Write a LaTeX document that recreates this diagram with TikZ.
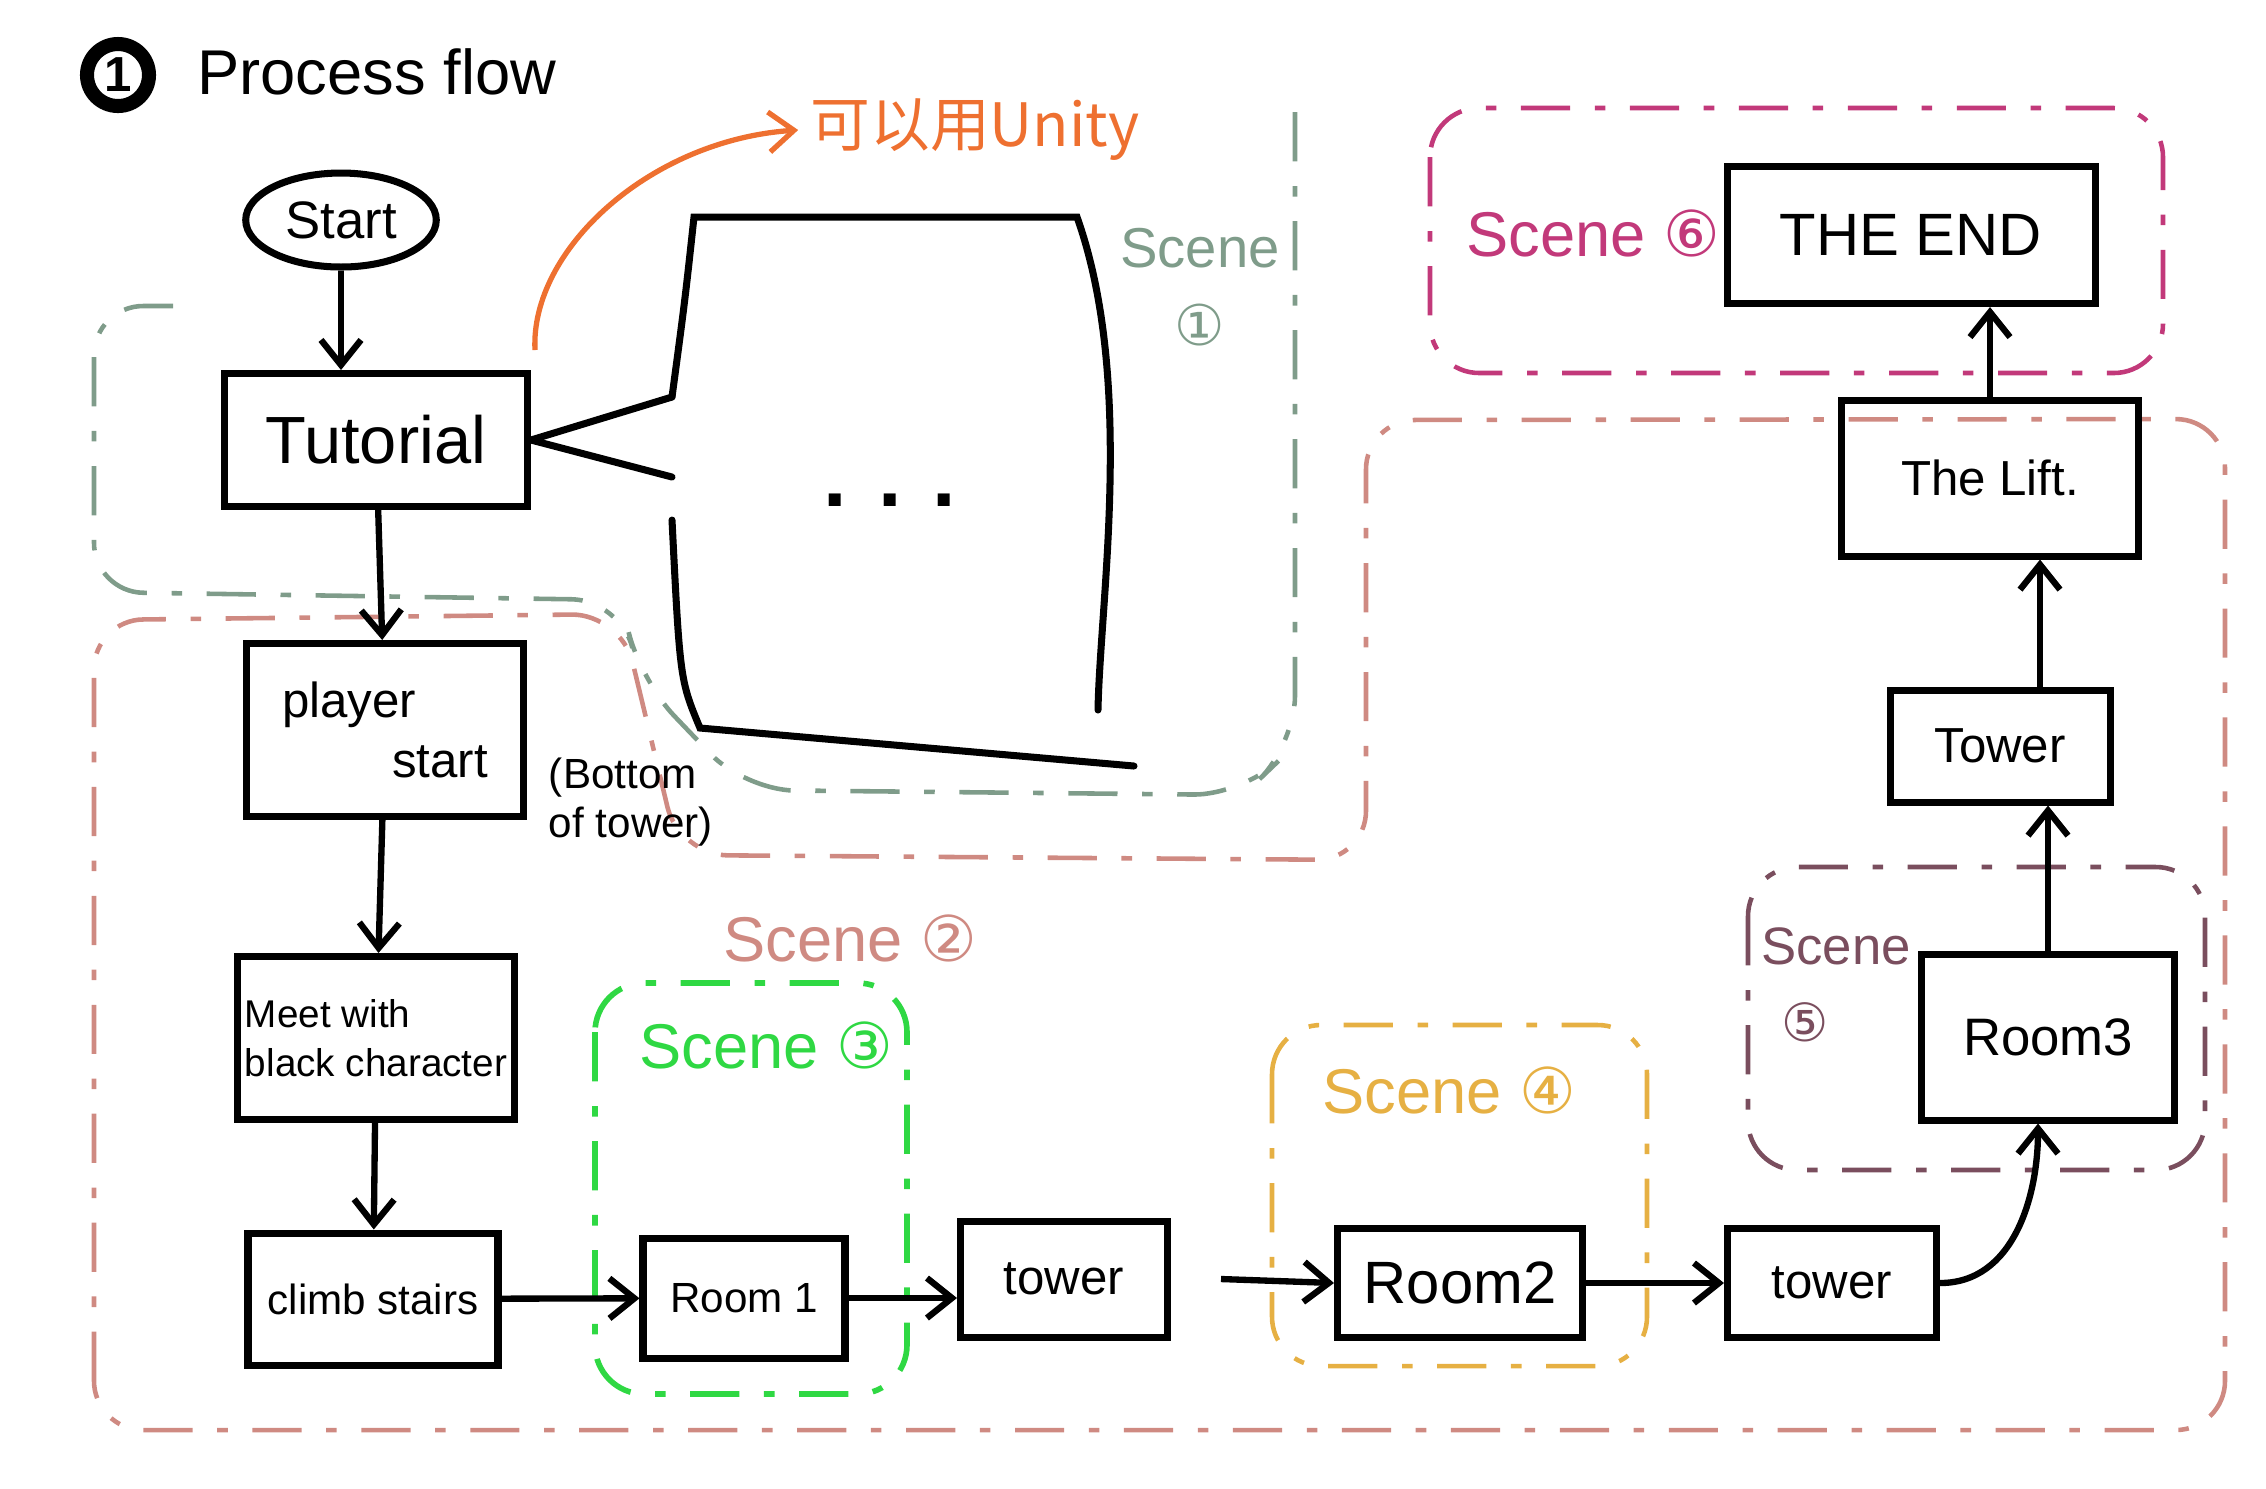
\documentclass[tikz,border=0pt]{standalone}
\usepackage{fontspec}
\setmainfont{Liberation Sans}
\newfontfamily\cjkfont{Noto Sans CJK SC}
\newfontfamily\circfont{DejaVu Sans}
\usepackage{tikz}
\usetikzlibrary{shapes.geometric, arrows.meta, positioning, calc}
\usepackage{xcolor}
\definecolor{scene1col}{HTML}{7F9C8A}
\definecolor{scene2col}{HTML}{CF8A82}
\definecolor{scene3col}{HTML}{2FD843}
\definecolor{scene4col}{HTML}{E6B043}
\definecolor{scene5col}{HTML}{7A4E5E}
\definecolor{scene6col}{HTML}{C2397A}
\definecolor{unitycol}{HTML}{EE7030}

\begin{document}
\begin{tikzpicture}[
    box/.style={draw, line width=2pt, align=center, inner sep=2pt},
    startnode/.style={ellipse, draw, line width=2pt, minimum width=1.85cm, minimum height=0.94cm, font=\fontsize{15}{17}\selectfont},
    region/.style={line width=1.3pt, dash pattern=on 14pt off 7pt on 3pt off 7pt, rounded corners=14pt},
    scenelbl/.style={font=\fontsize{18}{22}\selectfont, align=center},
    arrow/.style={-{Straight Barb[length=2.5mm, width=4mm]}, line width=1.8pt},
    outline/.style={line width=2pt, line cap=round},
]
\useasboundingbox (0,0) rectangle (22.66,-14.88);

% Title
\node[circle, draw, line width=4pt, minimum size=0.62cm, inner sep=0pt, font=\bfseries\fontsize{14}{14}\selectfont] (num) at (1.18,-0.75) {1};
\node[anchor=west, font=\fontsize{18}{21}\selectfont] (title) at (1.85,-0.72) {Process flow};

% Scene regions
\draw[region, scene1col] (1.73,-3.06) -- (0.94,-3.06) -- (0.94,-5.92) -- (6.21,-6.00) -- (6.40,-6.80) -- (7.45,-7.90) -- (12.43,-7.95) -- (12.95,-7.45) -- (12.95,-0.90);
\draw[region, scene2col] (0.94,-14.30) -- (0.94,-6.20) -- (6.21,-6.14) -- (6.79,-8.55) -- (13.66,-8.60) -- (13.66,-4.20) -- (22.25,-4.19) -- (22.25,-14.30) -- cycle;
\draw[region, scene3col, line width=1.6pt] (5.95,-9.83) rectangle (9.07,-13.94);
\draw[region, scene4col] (12.72,-10.25) rectangle (16.47,-13.66);
\draw[region, scene5col] (17.48,-8.67) rectangle (22.05,-11.70);
\draw[region, scene6col] (14.30,-1.08) rectangle (21.63,-3.73);

% Scene labels
\node[scenelbl, text=scene1col, font=\fontsize{16}{22}\selectfont] (s1lbl) at (12.00,-2.87) {Scene\\{\circfont ①}};
\node[scenelbl, text=scene2col] (s2lbl) at (8.50,-9.38) {Scene {\circfont ②}};
\node[scenelbl, text=scene3col] (s3lbl) at (7.66,-10.45) {Scene {\circfont ③}};
\node[scenelbl, text=scene4col] (s4lbl) at (14.49,-10.90) {Scene {\circfont ④}};
\node[scenelbl, text=scene5col, align=left, font=\fontsize{15}{22}\selectfont] (s5lbl) at (18.36,-9.85) {Scene\\\hspace*{2mm}{\circfont ⑤}};
\node[scenelbl, text=scene6col] (s6lbl) at (15.93,-2.33) {Scene {\circfont ⑥}};

% Flow nodes
\node[startnode] (start) at (3.41,-2.20) {Start};
\node[box, minimum width=3.03cm, minimum height=1.33cm, font=\fontsize{19}{22}\selectfont] (tut) at (3.76,-4.40) {Tutorial};
\node[box, minimum width=2.77cm, minimum height=1.73cm, font=\fontsize{14}{17}\selectfont, align=left] (ps) at (3.85,-7.30) {player\\\hspace*{1.1cm}start};
\node[font=\fontsize{12}{14}\selectfont, align=left] (btm) at (6.31,-8.02) {(Bottom\\of tower)};
\node[box, minimum width=2.75cm, minimum height=1.63cm, font=\fontsize{11}{14}\selectfont, align=left] (meet) at (3.76,-10.38) {Meet with\\black character};
\node[box, minimum width=2.50cm, minimum height=1.32cm, font=\fontsize{12}{14}\selectfont] (climb) at (3.73,-12.99) {climb stairs};
\node[box, minimum width=2.02cm, minimum height=1.20cm, font=\fontsize{12}{14}\selectfont] (r1) at (7.44,-12.98) {Room 1};
\node[box, minimum width=2.07cm, minimum height=1.16cm, font=\fontsize{14}{16}\selectfont] (t1) at (10.64,-12.79) {tower};
\node[box, minimum width=2.45cm, minimum height=1.09cm, font=\fontsize{17}{19}\selectfont] (r2) at (14.60,-12.83) {Room2};
\node[box, minimum width=2.09cm, minimum height=1.09cm, font=\fontsize{14}{16}\selectfont] (t2) at (18.32,-12.83) {tower};
\node[box, minimum width=2.53cm, minimum height=1.66cm, font=\fontsize{15}{17}\selectfont] (r3) at (20.48,-10.37) {Room3};
\node[box, minimum width=2.20cm, minimum height=1.12cm, font=\fontsize{14}{16}\selectfont] (t3) at (20.00,-7.46) {Tower};
\node[box, minimum width=2.97cm, minimum height=1.56cm, font=\fontsize{14}{16}\selectfont] (lift) at (19.90,-4.78) {The Lift.};
\node[box, minimum width=3.68cm, minimum height=1.37cm, font=\fontsize{17}{19}\selectfont] (theend) at (19.11,-2.35) {THE END};

% Speech bubble
\coordinate (tailA) at (6.72,-3.97);
\coordinate (tailB) at (6.72,-4.77);
\draw[outline] (tailA) .. controls (6.85,-3.0) .. (6.94,-2.17) -- (10.77,-2.17) .. controls (11.35,-3.8) and (11.0,-6.0) .. (10.98,-7.10);
\draw[outline] (6.72,-5.20) .. controls (6.80,-6.8) .. (7.00,-7.28) -- (11.34,-7.66);
\node[font=\bfseries\fontsize{24}{24}\selectfont] (dots) at (8.90,-5.00) {. . .};
\draw[outline] (tut.east) -- (tailA);
\draw[outline] (tut.east) -- (tailB);

% Unity note
\node[font=\cjkfont\fontsize{17}{20}\selectfont, text=unitycol] (unity) at (9.75,-1.30) {可以用Unity};
\coordinate (orstart) at (5.35,-3.50);
\draw[arrow, unitycol, line width=1.5pt] (orstart) .. controls (5.30,-2.50) and (6.50,-1.40) .. (unity.west);

% Arrows
\draw[arrow] (start.south) -- (start.south |- tut.north);
\draw[arrow] (tut) -- (ps);
\draw[arrow] (ps) -- (meet);
\draw[arrow] (meet) -- (climb);
\draw[arrow] (climb) -- (r1);
\draw[arrow] (r1.east) -- (r1.east -| t1.west);
\draw[arrow] ([xshift=5mm]t1.east) -- (r2.west);
\draw[arrow] (r2) -- (t2);
\draw[arrow] (t2.east) to[out=0, in=-90] ([xshift=-1mm]r3.south);
\draw[arrow] (r3.north) -- (r3.north |- t3.south);
\draw[arrow] ([xshift=4mm]t3.north) -- ([xshift=4mm]t3.north |- lift.south);
\draw[arrow] (lift.north) -- (lift.north |- theend.south);

\end{tikzpicture}
\end{document}
